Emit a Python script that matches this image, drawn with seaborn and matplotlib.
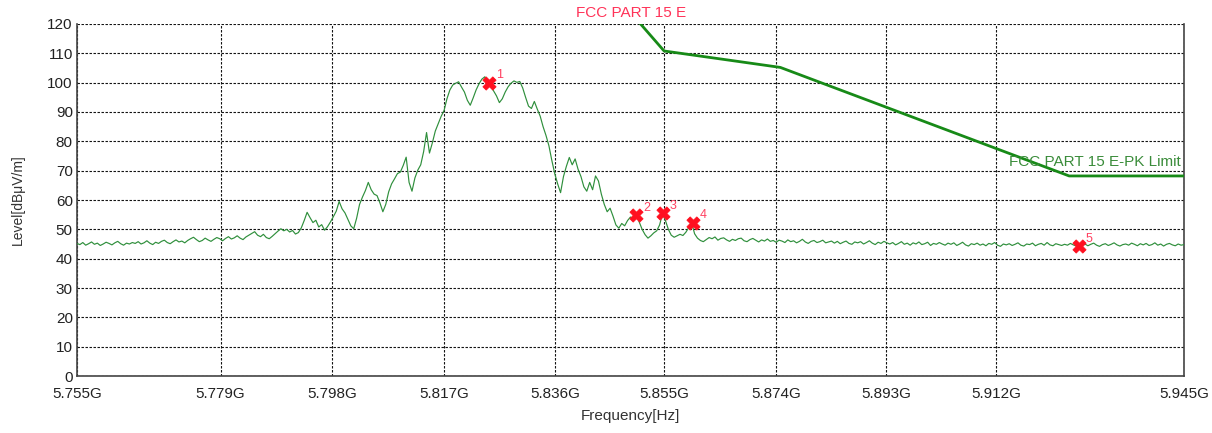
import numpy as np
import pandas as pd
import matplotlib
matplotlib.use('Agg')
import matplotlib.pyplot as plt
import seaborn as sns

# sweep levels [dBuV/m], 381 points across 5.755 - 5.945 GHz (log sweep)
levels = [
    45.2, 44.8, 45.5, 44.6, 45.1, 45.7, 44.9, 45.3, 44.5, 45.0, 45.6, 45.2, 44.7, 45.4, 45.9, 45.1, 44.6, 45.3, 45.0, 45.5,
    45.2, 45.8, 45.0, 45.4, 46.1, 45.3, 44.8, 45.6, 45.2, 45.9, 46.3, 45.5, 45.1, 45.8, 46.4, 45.7, 46.0, 45.4, 46.2, 46.8,
    47.3, 46.5, 45.8, 46.2, 47.0, 46.4, 45.9, 46.6, 47.2, 46.8, 46.1, 46.9, 47.5, 46.7, 47.1, 47.8, 47.0, 46.5, 47.4, 48.0,
    48.6, 49.2, 48.0, 47.5, 48.3, 47.2, 46.8, 47.6, 48.5, 49.4, 50.2, 49.5, 50.0, 49.1, 49.6, 48.4, 48.9, 50.5, 53.0, 55.8,
    54.0, 52.3, 53.1, 50.8, 51.6, 49.7, 50.9, 52.5, 54.3, 56.2, 59.5, 57.0, 55.6, 53.4, 51.2, 50.2, 53.8, 58.5, 61.0, 63.2,
    66.0, 63.5, 62.0, 61.5, 59.0, 56.0, 58.5, 62.8, 65.5, 67.2, 69.0, 69.5, 71.8, 74.6, 66.0, 63.0, 67.5, 70.2, 72.0, 76.5,
    83.0, 76.0, 79.5, 83.5, 86.0, 88.5, 90.5, 94.5, 97.5, 99.2, 99.8, 100.3, 98.5, 96.8, 94.0, 92.3, 94.8, 97.5, 99.6, 101.2,
    102.0, 100.2, 99.0, 97.2, 95.5, 93.2, 94.5, 96.8, 98.6, 99.8, 100.6, 100.1, 100.4, 98.2, 95.0, 92.0, 91.2, 93.6, 91.0, 88.6,
    85.0, 82.0, 78.5, 73.5, 69.0, 65.5, 62.5, 68.0, 71.5, 74.5, 72.0, 74.0, 70.5, 68.0, 64.5, 63.0, 66.0, 63.5, 68.2, 66.5,
    62.0, 58.5, 56.0, 57.2, 54.5, 51.5, 50.4, 52.0, 51.2, 53.0, 54.2, 53.5, 55.0, 52.5, 50.0, 48.2, 47.0, 47.8, 48.8, 49.5,
    51.5, 55.4, 53.0, 50.0, 48.0, 47.3, 47.8, 48.3, 47.9, 49.0, 50.6, 52.3, 48.5, 47.0, 46.2, 45.8, 46.5, 47.2, 46.8, 47.4,
    46.3, 46.9, 47.1, 46.4, 45.9, 46.6, 46.2, 46.8, 47.0, 46.1, 45.8, 46.5, 46.9, 46.3, 45.7, 46.4, 46.0, 46.7, 45.9, 46.2,
    45.6, 46.3, 46.0, 45.5, 46.4, 45.8, 46.1, 45.4, 45.9, 46.6, 45.7, 45.2, 45.9, 46.2, 45.5, 45.8, 46.3, 45.4, 45.7, 46.0,
    45.3, 45.9, 45.1, 45.6, 46.0, 45.2, 44.9, 45.7, 45.4, 45.8, 45.0, 45.5, 46.1, 45.3, 44.8, 45.6, 45.2, 45.9, 45.4, 45.0,
    45.5, 44.7, 45.2, 45.8, 44.9, 45.3, 44.6, 45.4, 45.0, 45.7, 44.8, 45.1, 45.6, 44.5, 45.2, 44.9, 45.5, 45.0, 44.6, 45.3,
    44.9, 45.4, 44.5, 45.0, 45.6, 44.7, 44.3, 45.1, 44.8, 45.3, 44.6, 45.0, 44.4, 45.2, 44.9, 45.5, 44.6, 44.2, 45.0, 44.7,
    45.1, 44.5, 44.9, 45.4, 44.6, 44.3, 45.0, 44.8, 45.3, 44.4, 44.9, 45.2, 44.6, 45.5, 44.7, 44.4, 45.1, 44.8, 44.5, 44.9,
    44.6, 45.2, 44.7, 44.3, 44.2, 44.8, 45.0, 44.4, 44.9, 45.3, 44.6, 44.2, 44.8, 45.1, 44.5, 44.9, 45.4, 44.7, 44.3, 44.8,
    45.0, 44.6, 45.3, 44.9, 44.4, 45.1, 44.7, 45.2, 44.5, 44.8, 45.4, 44.6, 45.0, 44.3, 44.9, 45.2, 44.7, 44.4, 45.0, 44.6,
    44.8,
]
start_hz = 5.755e9
stop_hz = 5.945e9

# FCC part 15 E peak limit
limit_freq = [5.850e9, 5.855e9, 5.875e9, 5.925e9, 5.945e9]
limit_level = [122.2, 110.8, 105.2, 68.2, 68.2]

# markers
marker_freq = [5.8250e9, 5.8502e9, 5.8548e9, 5.8600e9, 5.9267e9]
marker_level = [100.0, 55.0, 55.5, 52.3, 44.2]
marker_names = ['1', '2', '3', '4', '5']

x_ticks = [5.755e9, 5.7793e9, 5.7983e9, 5.8173e9, 5.8363e9, 5.855e9, 5.8743e9, 5.8933e9, 5.9123e9, 5.945e9]
x_ticklabels = ['5.755G', '5.779G', '5.798G', '5.817G', '5.836G', '5.855G', '5.874G', '5.893G', '5.912G', '5.945G']
y_ticks = list(range(0, 121, 10))

sns.set_style('white')
plt.rcParams['font.family'] = ['Liberation Sans Narrow', 'Liberation Sans', 'DejaVu Sans']

fig, ax = plt.subplots(figsize=(12.12, 4.33), dpi=100)
ax.set_position([0.0635, 0.1316, 0.9134, 0.813])
ax.set_xscale('log')

trace = pd.DataFrame({'freq': np.geomspace(start_hz, stop_hz, len(levels)), 'level': levels})
sns.lineplot(data=trace, x='freq', y='level', ax=ax, color='#2f8f3c', lw=0.85,
             estimator=None, sort=False, zorder=3)
sns.lineplot(x=limit_freq, y=limit_level, ax=ax, color='#178a17', lw=2.0,
             estimator=None, sort=False, zorder=4)
sns.scatterplot(x=marker_freq, y=marker_level, ax=ax, marker='X', s=90,
                color='#ff1020', edgecolor='#ff1020', linewidth=0.6, zorder=5)
for f, lv, name in zip(marker_freq, marker_level, marker_names):
    ax.annotate(name, (f, lv), xytext=(5, 3), textcoords='offset points',
                color='#ff4060', fontsize=9, zorder=6)

ax.set_xlim(start_hz, stop_hz)
ax.set_ylim(0, 120)
ax.set_xticks(x_ticks)
ax.set_xticklabels(x_ticklabels)
ax.set_xticks([], minor=True)
ax.set_yticks(y_ticks)
ax.tick_params(axis='both', length=0, labelsize=11, colors='#222222')
ax.tick_params(axis='x', pad=8)
ax.tick_params(axis='y', pad=3)

ax.grid(True, color='#111111', linestyle=(0, (2.2, 1.4)), lw=0.8)
ax.spines['top'].set_visible(False)
for side in ['left', 'bottom', 'right']:
    ax.spines[side].set_color('#444444')
    ax.spines[side].set_linewidth(1.2)

ax.set_xlabel('Frequency[Hz]', fontsize=11, color='#333333', labelpad=6)
ax.set_ylabel('Level[dBμV/m]', fontsize=10, color='#333333', labelpad=16)

fig.text(631 / 1212, 1 - 13 / 433, 'FCC PART 15 E', ha='center', va='center',
         color='#ff3358', fontsize=11)
ax.text(5.9445e9, 73, 'FCC PART 15 E-PK Limit', ha='right', va='center',
        color='#3a8c3a', fontsize=11, zorder=6)

plt.savefig('out.png', dpi=100)
plt.close()
